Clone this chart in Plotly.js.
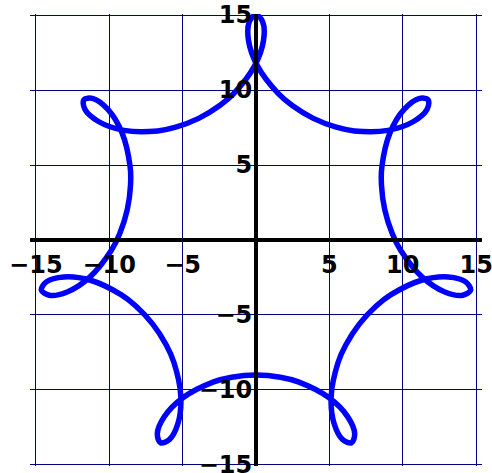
<!DOCTYPE html>
<html>
<head>
<meta charset="utf-8">
<script src="https://cdn.plot.ly/plotly-3.0.1.min.js"></script>
<style>html,body{margin:0;padding:0;background:#fff;}#chart{width:492px;height:473px;}</style>
</head>
<body>
<div id="chart"></div>
<script>
// Curve points (7-lobed looped curve), in order along the path
const curveX = [
  3.905, 2.471, 1.506, 0.106, -0.514, -0.454, 0, 0.454, 0.514, -0.106, -1.506, -2.471,
  -3.905, -5.469, -6.704, -8.996, -10.733, -11.660, -11.727, -11.094, -10.092, -9.128, -8.582, -8.550,
  -8.775, -9.290, -9.866, -11.324, -12.870, -14.086, -14.624, -14.288, -13.098, -11.277, -9.196, -8.190,
  -7.037, -6.116, -5.598, -5.125, -5.315, -5.905, -6.508, -6.723, -6.242, -4.934, -2.885, -1.663,
  0, 1.663, 2.885, 4.934, 6.242, 6.723, 6.508, 5.905, 5.315, 5.125, 5.598, 6.116,
  7.037, 8.190, 9.196, 11.277, 13.098, 14.288, 14.624, 14.086, 12.870, 11.324, 9.866, 9.290,
  8.775, 8.550, 8.582, 9.128, 10.092, 11.094, 11.727, 11.660, 10.733, 8.996, 6.704, 5.469,
  3.905
];
const curveY = [
  8.109, 8.965, 9.776, 11.591, 13.318, 14.552, 15, 14.552, 13.318, 11.591, 9.776, 8.965,
  8.109, 7.522, 7.273, 7.310, 7.902, 8.718, 9.352, 9.428, 8.706, 7.144, 4.918, 3.658,
  2.003, 0.414, -0.707, -2.476, -3.465, -3.681, -3.338, -2.795, -2.462, -2.683, -3.644, -4.404,
  -5.612, -7.005, -8.154, -10.397, -12.222, -13.308, -13.515, -12.914, -11.776, -10.489, -9.461, -9.149,
  -9, -9.149, -9.461, -10.489, -11.776, -12.914, -13.515, -13.308, -12.222, -10.397, -8.154, -7.005,
  -5.612, -4.404, -3.644, -2.683, -2.462, -2.795, -3.338, -3.681, -3.465, -2.476, -0.707, 0.414,
  2.003, 3.658, 4.918, 7.144, 8.706, 9.428, 9.352, 8.718, 7.902, 7.310, 7.273, 7.522,
  8.109
];
const tickValues = [-15, -10, -5, 5, 10, 15];
const tickLabels = ['\u221215', '\u221210', '\u22125', '5', '10', '15'];

const tickFont = {family: 'DejaVu Sans, Verdana, sans-serif', size: 24, color: '#000', weight: 'bold'};

const data = [{
  type: 'scatter',
  mode: 'lines',
  x: curveX,
  y: curveY,
  line: {color: '#0000ff', width: 5.5, shape: 'spline', smoothing: 1},
  hoverinfo: 'skip'
}];

const layout = {
  width: 492,
  height: 473,
  margin: {l: 30, r: 10, t: 14, b: 7, pad: 0},
  paper_bgcolor: '#ffffff',
  plot_bgcolor: '#ffffff',
  showlegend: false,
  xaxis: {
    range: [-15.4, 15.4],
    anchor: 'free',
    position: 0.5,
    tickvals: tickValues,
    ticktext: tickLabels,
    ticks: '',
    ticklabeloverflow: 'allow',
    ticklabelstandoff: 2,
    showgrid: true,
    gridcolor: '#000080',
    gridwidth: 1,
    zeroline: false,
    showline: true,
    linecolor: '#000',
    linewidth: 4,
    layer: 'above traces',
    tickfont: tickFont,
    fixedrange: true
  },
  yaxis: {
    range: [-15.07, 15.07],
    anchor: 'free',
    position: 0.5,
    tickvals: tickValues,
    ticktext: tickLabels,
    ticks: '',
    ticklabeloverflow: 'allow',
    ticklabelstandoff: -3,
    showgrid: true,
    gridcolor: '#000080',
    gridwidth: 1,
    zeroline: false,
    showline: true,
    linecolor: '#000',
    linewidth: 4,
    layer: 'above traces',
    tickfont: tickFont,
    fixedrange: true
  }
};

Plotly.newPlot('chart', data, layout, {displayModeBar: false, staticPlot: true});
</script>
</body>
</html>
